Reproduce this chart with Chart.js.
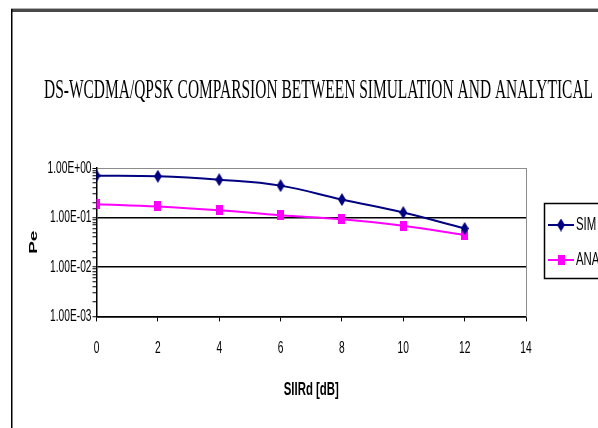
<!DOCTYPE html>
<html><head><meta charset="utf-8">
<script src="https://cdn.jsdelivr.net/npm/chart.js@4.4.1/dist/chart.umd.min.js"></script>
<style>html,body{margin:0;padding:0;background:#fff;overflow:hidden}#wrap{position:absolute;left:0;top:0;width:598px;height:428px}</style>
</head><body><div id="wrap"><canvas id="c" width="598" height="428"></canvas></div>
<script>
const chartTitle = 'DS-WCDMA/QPSK COMPARSION BETWEEN SIMULATION AND ANALYTICAL';
const xAxisTitle = 'SIIRd [dB]';
const yAxisTitle = 'Pe';
const seriesNames = ['SIM', 'ANA'];
const snrValues = [0, 2, 4, 6, 8, 10, 12];
const simValues = [0.70, 0.68, 0.58, 0.44, 0.23, 0.126, 0.060];
const anaValues = [0.186, 0.167, 0.140, 0.111, 0.092, 0.068, 0.044];
const xTickLabels = ['0', '2', '4', '6', '8', '10', '12', '14'];
const yTickValues = [0.001, 0.01, 0.1, 1];
const yTickLabels = ['1.00E-03', '1.00E-02', '1.00E-01', '1.00E+00'];

const SANS = '"Liberation Sans", Arial, sans-serif';
const CONDENSE = 0.6;

const canvas = document.getElementById('c');
const ctx2d = canvas.getContext('2d');
const rawFillText = CanvasRenderingContext2D.prototype.fillText;
// The sans text of the original is rendered horizontally condensed.
ctx2d.fillText = function (text, x, y, maxWidth) {
  if (/Serif/.test(this.font)) {
    return maxWidth === undefined ? rawFillText.call(this, text, x, y) : rawFillText.call(this, text, x, y, maxWidth);
  }
  const m = this.getTransform();
  const p = m.transformPoint(new DOMPoint(x, y));
  const s = new DOMMatrix().translate(p.x, p.y).scale(CONDENSE, 1).translate(-p.x, -p.y);
  this.setTransform(s.multiply(m));
  rawFillText.call(this, text, x, y);
  this.setTransform(m);
};

function makeMarker(kind, w, h, color) {
  const c = document.createElement('canvas');
  c.width = w; c.height = h;
  const g = c.getContext('2d');
  g.fillStyle = color;
  if (kind === 'diamond') {
    g.beginPath();
    g.moveTo(w / 2, 0); g.lineTo(w, h / 2); g.lineTo(w / 2, h); g.lineTo(0, h / 2);
    g.closePath(); g.fill();
  } else {
    g.fillRect(0, 0, w, h);
  }
  return c;
}
const simMarker = makeMarker('diamond', 8, 13, '#000080');
const anaMarker = makeMarker('square', 7, 10, '#ff00ff');

function isDecade(v) {
  const l = Math.log10(v);
  return Math.abs(l - Math.round(l)) < 1e-9;
}

const framePlugin = {
  id: 'frame',
  beforeDraw(chart) {
    const ctx = chart.ctx;
    ctx.save();
    ctx.fillStyle = '#ffffff';
    ctx.fillRect(0, 0, chart.width, chart.height);
    ctx.fillStyle = '#b0b0b0';
    ctx.fillRect(11, 8, chart.width - 11, 1);
    ctx.fillStyle = '#4a4a4a';
    ctx.fillRect(11, 9, chart.width - 11, 3);
    ctx.fillStyle = '#000000';
    ctx.fillRect(11, 9, 1.5, chart.height - 9);
    ctx.restore();
  }
};

const titleSpanPlugin = {
  id: 'titleSpan',
  afterLayout(chart) {
    const t = chart.titleBlock;
    if (t) { t.left = 44; t.right = 593; t.width = 549; }
  }
};

const boxLegendPlugin = {
  id: 'boxLegend',
  afterDraw(chart) {
    const ctx = chart.ctx;
    ctx.save();
    ctx.strokeStyle = '#000';
    ctx.lineWidth = 1.5;
    ctx.strokeRect(544.5, 203.5, 80, 75);
    const rows = [225, 260];
    chart.data.datasets.forEach((ds, i) => {
      const y = rows[i];
      ctx.strokeStyle = ds.borderColor;
      ctx.lineWidth = 2;
      ctx.beginPath(); ctx.moveTo(548, y); ctx.lineTo(574, y); ctx.stroke();
      Chart.helpers.drawPoint(ctx, {pointStyle: ds.pointStyle, radius: 5, rotation: 0, borderWidth: 0}, 561, y);
      ctx.fillStyle = '#000';
      ctx.font = '19px ' + SANS;
      ctx.textBaseline = 'middle';
      ctx.textAlign = 'left';
      ctx.fillText(ds.label, 576, y);
    });
    ctx.restore();
  }
};

const toXY = (vals) => vals.map((v, i) => ({x: snrValues[i], y: v}));

new Chart(canvas, {
  type: 'line',
  data: {
    datasets: [
      {
        label: seriesNames[0], data: toXY(simValues),
        borderColor: '#000080', backgroundColor: '#000080',
        pointStyle: simMarker, pointRadius: 6, borderWidth: 2, tension: 0.4, clip: 0
      },
      {
        label: seriesNames[1], data: toXY(anaValues),
        borderColor: '#ff00ff', backgroundColor: '#ff00ff',
        pointStyle: anaMarker, pointRadius: 6, borderWidth: 2, tension: 0.4, clip: 0
      }
    ]
  },
  options: {
    responsive: false,
    animation: false,
    devicePixelRatio: 1,
    layout: {padding: {left: 10, right: 0, top: 0, bottom: 23}},
    plugins: {
      legend: {display: false},
      tooltip: {enabled: false},
      title: {
        display: true, text: chartTitle, color: '#000',
        font: {family: '"Liberation Serif", "Times New Roman", serif', size: 27, weight: 'normal', lineHeight: 1.2},
        padding: {top: 74.7, bottom: 60.9}
      }
    },
    scales: {
      x: {
        type: 'linear', min: 0, max: 14,
        afterFit(s) { s.height = 88.6; },
        afterBuildTicks(s) { s.ticks = xTickLabels.map(t => ({value: Number(t)})); },
        ticks: {
          color: '#000', padding: 17, autoSkip: false, maxRotation: 0,
          font: {family: SANS, size: 17},
          callback: (v) => xTickLabels[xTickLabels.indexOf(String(v))]
        },
        grid: {drawOnChartArea: false, drawTicks: true, tickLength: 5, tickColor: '#000', lineWidth: 1},
        border: {display: true, color: '#000', width: 1.5},
        title: {display: true, text: xAxisTitle, color: '#000', padding: {top: 4, bottom: 4},
          font: {family: SANS, size: 19, weight: 'bold', lineHeight: 1.2}}
      },
      y: {
        type: 'logarithmic', min: 0.001, max: 1,
        afterFit(s) { s.width = 86.5; },
        ticks: {
          color: '#000', padding: 1, autoSkip: false,
          font: {family: SANS, size: 17},
          callback: (v) => {
            const k = yTickValues.findIndex(t => Math.abs(t - v) / t < 1e-6);
            return k >= 0 ? yTickLabels[k] : '';
          }
        },
        grid: {
          drawTicks: true, tickLength: 4,
          color: (c) => {
            const v = c.tick ? c.tick.value : 0;
            if (!isDecade(v)) return 'rgba(0,0,0,0)';
            if (Math.abs(v - 1) < 1e-9) return '#8c8c8c';
            return '#000';
          },
          lineWidth: (c) => (c.tick && Math.abs(c.tick.value - 1) < 1e-9) ? 1 : 1.5,
          tickColor: '#000', tickWidth: 1
        },
        border: {display: true, color: '#000', width: 1.5},
        title: {display: true, text: yAxisTitle, color: '#000', padding: {top: 12, bottom: 0},
          font: {family: SANS, size: 19, weight: 'bold', lineHeight: 1.2}}
      },
      y2: {
        type: 'linear', position: 'right', display: true,
        afterFit(s) { s.width = 72; },
        ticks: {display: false},
        grid: {display: false, drawTicks: false},
        border: {display: true, color: '#8c8c8c', width: 1}
      }
    }
  },
  plugins: [framePlugin, titleSpanPlugin, boxLegendPlugin]
});
</script>
</body></html>
